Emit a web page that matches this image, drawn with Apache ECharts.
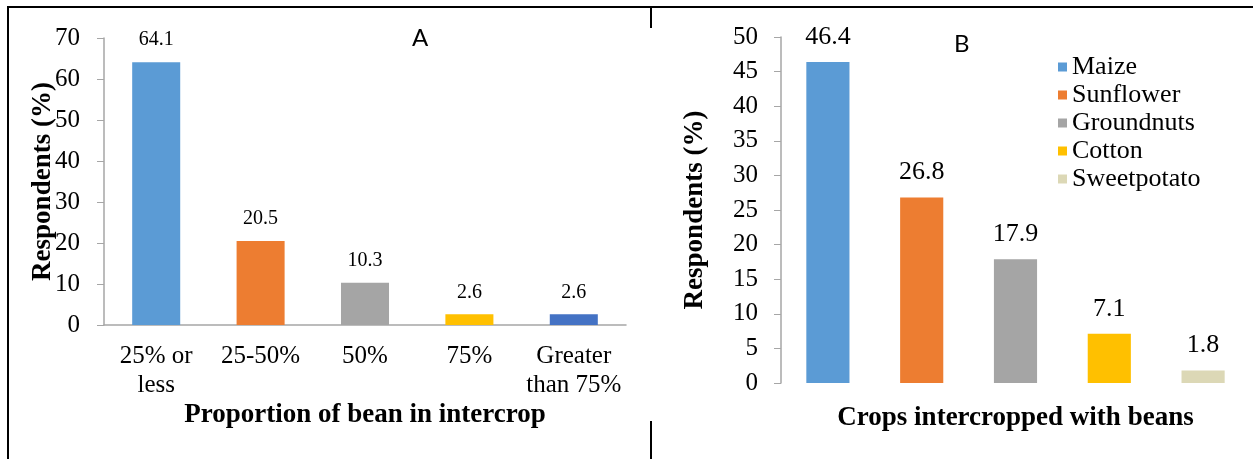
<!DOCTYPE html>
<html>
<head>
<meta charset="utf-8">
<script src="https://cdn.jsdelivr.net/npm/echarts@6/dist/echarts.min.js"></script>
<style>
  html, body { margin: 0; padding: 0; background: #fff; }
  #main { width: 1253px; height: 459px; }
</style>
</head>
<body>
<div id="main"></div>
<script>
// panel A: proportion of bean in intercrop
var propCategories = ["25% or\nless", "25-50%", "50%", "75%", "Greater\nthan 75%"];
var propValues = [64.1, 20.5, 10.3, 2.6, 2.6];
var propColors = ["#5B9BD5", "#ED7D31", "#A5A5A5", "#FFC000", "#4472C4"];

// panel B: crops intercropped with beans
var cropNames = ["Maize", "Sunflower", "Groundnuts", "Cotton", "Sweetpotato"];
var cropValues = [46.4, 26.8, 17.9, 7.1, 1.8];
var cropColors = ["#5B9BD5", "#ED7D31", "#A5A5A5", "#FFC000", "#DCD8B6"];

var serif = "'Liberation Serif', 'Times New Roman', serif";
var axisGrey = "#A6A6A6";

var cropSeries = cropNames.map(function (name, i) {
  return {
    name: name,
    type: "bar",
    xAxisIndex: 1,
    yAxisIndex: 1,
    stack: "crops",
    barWidth: "46%",
    itemStyle: { color: cropColors[i] },
    label: {
      show: true,
      position: "top",
      distance: 12,
      fontFamily: serif,
      fontSize: 26,
      color: "#000",
    },
    data: cropValues.map(function (v, j) {
      return j === i ? v : "-";
    }),
  };
});

var option = {
  animation: false,
  backgroundColor: "#fff",
  title: [
    {
      text: "A",
      left: 407,
      top: 21,
      textStyle: { fontFamily: "Lato, 'Liberation Sans', sans-serif", fontSize: 24, fontWeight: "normal", color: "#000" },
    },
    {
      text: "B",
      left: 949,
      top: 27,
      textStyle: { fontFamily: "Lato, 'Liberation Sans', sans-serif", fontSize: 24, fontWeight: "normal", color: "#000" },
    },
  ],
  legend: {
    data: cropNames,
    orient: "vertical",
    left: 1053,
    top: 49,
    itemWidth: 9,
    itemHeight: 9,
    itemGap: 2,
    icon: "rect",
    textStyle: { fontFamily: serif, fontSize: 26, color: "#000", lineHeight: 26 },
  },
  grid: [
    { left: 104, top: 38, width: 522, height: 287 },
    { left: 781, top: 37, width: 469, height: 346 },
  ],
  xAxis: [
    {
      gridIndex: 0,
      type: "category",
      data: propCategories,
      name: "Proportion of bean in intercrop",
      nameLocation: "middle",
      nameGap: 77,
      nameMoveOverlap: false,
      nameTextStyle: { fontFamily: serif, fontSize: 27, fontWeight: "bold", color: "#000" },
      axisLine: { lineStyle: { color: axisGrey, width: 1.5 } },
      axisTick: { length: 7, lineStyle: { color: axisGrey } },
      axisLabel: {
        fontFamily: serif,
        fontSize: 25,
        color: "#000",
        lineHeight: 29,
        margin: 17,
        interval: 0,
      },
    },
    {
      gridIndex: 1,
      type: "category",
      data: cropNames,
      name: "Crops intercropped with beans",
      nameLocation: "middle",
      nameGap: 22,
      nameMoveOverlap: false,
      nameTextStyle: { fontFamily: serif, fontSize: 27, fontWeight: "bold", color: "#000" },
      axisLine: { show: false },
      axisTick: { show: false },
      axisLabel: { show: false },
    },
  ],
  yAxis: [
    {
      gridIndex: 0,
      type: "value",
      min: 0,
      max: 70,
      interval: 10,
      name: "Respondents (%)",
      nameLocation: "middle",
      nameGap: 47,
      nameMoveOverlap: false,
      nameTextStyle: { fontFamily: serif, fontSize: 27, fontWeight: "bold", color: "#000" },
      axisLine: { show: true, lineStyle: { color: axisGrey, width: 1.5 } },
      axisTick: { show: true, length: 7, lineStyle: { color: axisGrey } },
      splitLine: { show: false },
      axisLabel: { fontFamily: serif, fontSize: 25, color: "#000", margin: 24 },
    },
    {
      gridIndex: 1,
      type: "value",
      min: 0,
      max: 50,
      interval: 5,
      name: "Respondents (%)",
      nameLocation: "middle",
      nameGap: 72,
      nameMoveOverlap: false,
      nameTextStyle: { fontFamily: serif, fontSize: 27, fontWeight: "bold", color: "#000" },
      axisLine: { show: true, lineStyle: { color: axisGrey, width: 1.5 } },
      axisTick: { show: true, length: 7, lineStyle: { color: axisGrey } },
      splitLine: { show: false },
      axisLabel: { fontFamily: serif, fontSize: 25, color: "#000", margin: 23 },
    },
  ],
  graphic: [
    { type: "line", shape: { x1: 7, y1: 7, x2: 1253, y2: 7 }, style: { stroke: "#000", lineWidth: 2 } },
    { type: "line", shape: { x1: 8, y1: 7, x2: 8, y2: 459 }, style: { stroke: "#000", lineWidth: 2 } },
    { type: "line", shape: { x1: 651, y1: 7, x2: 651, y2: 28 }, style: { stroke: "#000", lineWidth: 2 } },
    { type: "line", shape: { x1: 651, y1: 421, x2: 651, y2: 459 }, style: { stroke: "#000", lineWidth: 2 } },
  ],
  series: [
    {
      type: "bar",
      xAxisIndex: 0,
      yAxisIndex: 0,
      barWidth: "46%",
      label: {
        show: true,
        position: "top",
        distance: 12,
        fontFamily: serif,
        fontSize: 20,
        color: "#000",
      },
      data: propValues.map(function (v, i) {
        return { value: v, itemStyle: { color: propColors[i] } };
      }),
    },
  ].concat(cropSeries),
};

var myChart = echarts.init(document.getElementById("main"));
myChart.setOption(option);
</script>
</body>
</html>
